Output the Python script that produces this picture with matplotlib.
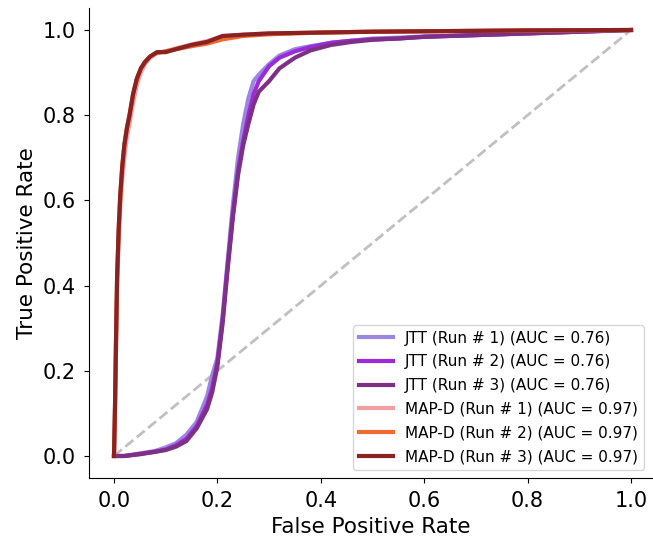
"""ROC curves for JTT and MAP-D runs"""

import matplotlib
matplotlib.use('Agg')
import matplotlib.pyplot as plt

# JTT runs
jtt_fpr_1 = [0, 0.02, 0.05, 0.08, 0.10, 0.12, 0.14, 0.16, 0.18, 0.19, 0.20, 0.21, 0.22, 0.23, 0.24, 0.25,
             0.26, 0.27, 0.28, 0.30, 0.32, 0.35, 0.38, 0.42, 0.46, 0.50, 0.55, 0.60, 0.70, 0.80, 0.90, 1.0]
jtt_tpr_1 = [0, 0.0, 0.006, 0.012, 0.02, 0.03, 0.05, 0.08, 0.14, 0.19, 0.23, 0.33, 0.46, 0.59, 0.70, 0.78,
             0.84, 0.88, 0.895, 0.92, 0.94, 0.955, 0.962, 0.97, 0.975, 0.98, 0.982, 0.985, 0.988, 0.992, 0.996, 1.0]
jtt_fpr_2 = [0, 0.02, 0.05, 0.08, 0.10, 0.12, 0.14, 0.16, 0.18, 0.19, 0.20, 0.21, 0.22, 0.23, 0.24, 0.25,
             0.26, 0.27, 0.28, 0.30, 0.32, 0.35, 0.38, 0.42, 0.46, 0.50, 0.55, 0.60, 0.70, 0.80, 0.90, 1.0]
jtt_tpr_2 = [0, 0.0, 0.005, 0.01, 0.015, 0.025, 0.04, 0.07, 0.12, 0.16, 0.22, 0.32, 0.45, 0.57, 0.67, 0.74,
             0.80, 0.85, 0.88, 0.915, 0.935, 0.95, 0.96, 0.97, 0.975, 0.978, 0.98, 0.984, 0.988, 0.992, 0.996, 1.0]
jtt_fpr_3 = [0, 0.02, 0.05, 0.08, 0.10, 0.12, 0.14, 0.16, 0.18, 0.19, 0.20, 0.21, 0.22, 0.23, 0.24, 0.25,
             0.26, 0.27, 0.28, 0.30, 0.32, 0.35, 0.38, 0.42, 0.46, 0.50, 0.55, 0.60, 0.70, 0.80, 0.90, 1.0]
jtt_tpr_3 = [0, 0.0, 0.004, 0.01, 0.014, 0.022, 0.035, 0.065, 0.11, 0.15, 0.21, 0.31, 0.44, 0.56, 0.66, 0.73,
             0.78, 0.825, 0.855, 0.88, 0.91, 0.935, 0.952, 0.965, 0.972, 0.977, 0.98, 0.984, 0.988, 0.992, 0.996, 1.0]

# MAP-D runs
mapd_fpr_1 = [0, 0.002, 0.004, 0.006, 0.009, 0.012, 0.016, 0.02, 0.025, 0.03, 0.037, 0.044, 0.052, 0.06,
              0.07, 0.083, 0.10, 0.12, 0.15, 0.18, 0.21, 0.25, 0.30, 0.40, 0.50, 0.60, 0.80, 1.0]
mapd_tpr_1 = [0, 0.10, 0.25, 0.39, 0.50, 0.58, 0.65, 0.70, 0.75, 0.78, 0.83, 0.87, 0.90, 0.92,
              0.935, 0.946, 0.95, 0.957, 0.966, 0.974, 0.985, 0.989, 0.992, 0.994, 0.996, 0.997, 0.999, 1.0]
mapd_fpr_2 = [0, 0.002, 0.004, 0.006, 0.009, 0.012, 0.016, 0.02, 0.025, 0.03, 0.037, 0.044, 0.052, 0.06,
              0.07, 0.083, 0.10, 0.12, 0.15, 0.18, 0.21, 0.25, 0.30, 0.40, 0.50, 0.60, 0.80, 1.0]
mapd_tpr_2 = [0, 0.12, 0.28, 0.42, 0.53, 0.61, 0.68, 0.73, 0.77, 0.80, 0.85, 0.885, 0.91, 0.925,
              0.938, 0.946, 0.95, 0.955, 0.962, 0.968, 0.978, 0.986, 0.99, 0.994, 0.996, 0.997, 0.999, 1.0]
mapd_fpr_3 = [0, 0.002, 0.004, 0.006, 0.009, 0.012, 0.016, 0.02, 0.025, 0.03, 0.037, 0.044, 0.052, 0.06,
              0.07, 0.083, 0.10, 0.12, 0.15, 0.18, 0.21, 0.25, 0.30, 0.40, 0.50, 0.60, 0.80, 1.0]
mapd_tpr_3 = [0, 0.12, 0.28, 0.42, 0.53, 0.61, 0.68, 0.73, 0.77, 0.80, 0.85, 0.885, 0.91, 0.925,
              0.938, 0.948, 0.948, 0.955, 0.965, 0.972, 0.986, 0.989, 0.992, 0.994, 0.996, 0.997, 0.999, 1.0]

labels = ['JTT (Run # 1) (AUC = 0.76)', 'JTT (Run # 2) (AUC = 0.76)', 'JTT (Run # 3) (AUC = 0.76)',
          'MAP-D (Run # 1) (AUC = 0.97)', 'MAP-D (Run # 2) (AUC = 0.97)', 'MAP-D (Run # 3) (AUC = 0.97)']
colors = ['#9b86e0', '#9b2bd8', '#7e3084', '#f0a0a0', '#f06a30', '#8b2222']

curves = [(jtt_fpr_1, jtt_tpr_1), (jtt_fpr_2, jtt_tpr_2), (jtt_fpr_3, jtt_tpr_3),
          (mapd_fpr_1, mapd_tpr_1), (mapd_fpr_2, mapd_tpr_2), (mapd_fpr_3, mapd_tpr_3)]

fig = plt.figure(figsize=(6.53, 5.37), dpi=100)
ax = fig.add_axes([89 / 653, 59 / 537, 564 / 653, 470 / 537])

ax.plot([0, 1], [0, 1], color='#c0c0c0', linestyle='--', linewidth=2)
for (x, y), label, color in zip(curves, labels, colors):
    ax.plot(x, y, color=color, linewidth=3, label=label)

ax.set_xlim((89 - 114) / 517, (653 - 114) / 517)
ax.set_ylim((456 - 478) / 426, (456 - 8) / 426)
ax.spines['top'].set_visible(False)
ax.spines['right'].set_visible(False)
ax.tick_params(labelsize=15, pad=6)
ax.set_xlabel('False Positive Rate', fontsize=15.5)
ax.set_ylabel('True Positive Rate', fontsize=15.5)
ax.legend(loc='lower right', fontsize=11, handlelength=2.2, labelspacing=0.57,
          bbox_to_anchor=(0.998, 0.0))

fig.savefig('out.png', dpi=100)
